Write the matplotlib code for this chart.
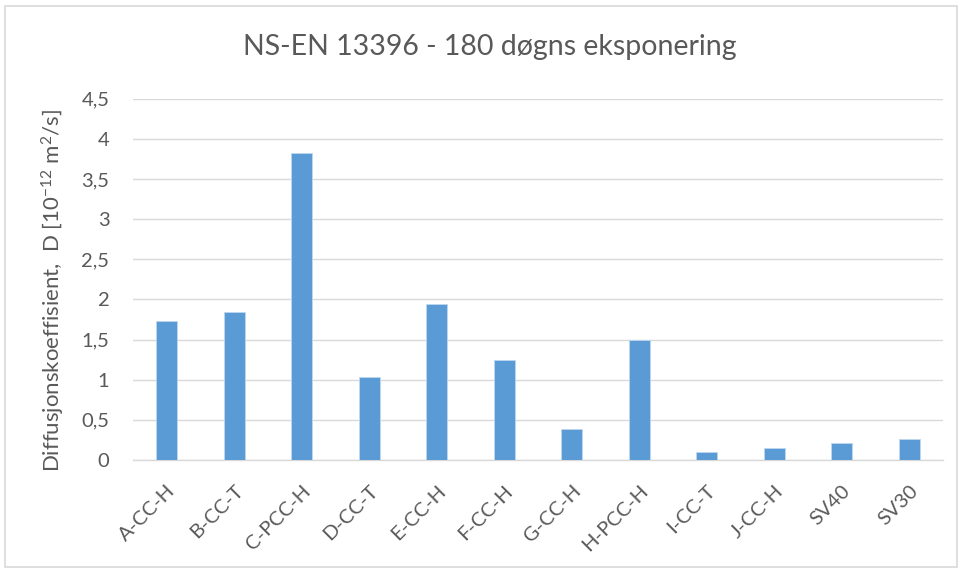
import matplotlib
matplotlib.use("Agg")
import matplotlib.pyplot as plt
from matplotlib.patches import Rectangle
from matplotlib.ticker import FuncFormatter, MultipleLocator

categories = ["A-CC-H", "B-CC-T", "C-PCC-H", "D-CC-T", "E-CC-H", "F-CC-H",
              "G-CC-H", "H-PCC-H", "I-CC-T", "J-CC-H", "SV40", "SV30"]
values = [1.73, 1.84, 3.82, 1.04, 1.94, 1.25, 0.39, 1.49, 0.10, 0.15, 0.21, 0.26]

title = "NS-EN 13396 - 180 døgns eksponering"
ylabel = "Diffusjonskoeffisient,  D [10$^{-12}$ m$^2$/s]"

plt.rcParams['font.family'] = ['Lato', 'DejaVu Sans']
plt.rcParams['mathtext.fontset'] = 'custom'
plt.rcParams['mathtext.rm'] = 'Lato'
plt.rcParams['mathtext.it'] = 'Lato'

text_color = "#595959"
fig = plt.figure(figsize=(9.62, 5.70), dpi=100)
fig.patches.append(Rectangle((0.005, 0.005), 0.99, 0.985, transform=fig.transFigure,
                             fill=False, edgecolor="#D9D9D9", linewidth=1.2))

ax = fig.add_axes([0.1383, 0.193, 0.842, 0.6337])
x = range(len(categories))
ax.bar(x, values, width=0.31, color="#5B9BD5", edgecolor="#BDD7EE", linewidth=0.6, zorder=3)

ax.set_ylim(0, 4.5)
ax.set_xlim(-0.5, len(categories) - 0.5)
ax.yaxis.set_major_locator(MultipleLocator(0.5))
ax.yaxis.set_major_formatter(FuncFormatter(lambda v, p: ("%g" % v).replace(".", ",")))
ax.grid(axis="y", color="#D9D9D9", linewidth=1.0, zorder=0)
for s in ["top", "right", "left"]:
    ax.spines[s].set_visible(False)
ax.spines["bottom"].set_color("#D9D9D9")
ax.spines["bottom"].set_linewidth(1.0)
ax.tick_params(axis="both", length=0, colors=text_color, labelsize=14.5)
ax.tick_params(axis="y", pad=17)
ax.set_xticks(list(x))
ax.set_xticklabels(categories, rotation=45, ha="right", rotation_mode="anchor")
ax.tick_params(axis="x", pad=16)

ax.set_ylabel(ylabel, fontsize=16, color=text_color)
ax.yaxis.set_label_coords(-0.082, 0.47)
fig.text(0.509, 0.917, title, ha="center", va="center", fontsize=20.5, color=text_color)

fig.savefig("out.png", dpi=100)
